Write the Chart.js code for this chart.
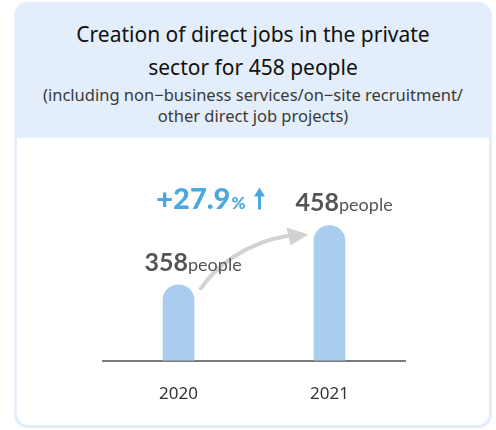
<!DOCTYPE html>
<html>
<head>
<meta charset="utf-8">
<script src="https://cdn.jsdelivr.net/npm/chart.js@4/dist/chart.umd.min.js"></script>
<style>
  html, body { margin: 0; padding: 0; background: #fff; }
  #card {
    position: absolute; left: 14px; top: 2px; width: 478px; height: 426px;
    background: #e3eefa; border-radius: 14px; box-sizing: border-box;
    padding: 0 3px 3px 3px;
  }
  #head { height: 136px; text-align: center; font-family: "Noto Sans", sans-serif; }
  #title { padding-top: 16px; font-size: 21px; line-height: 33px; color: #111; font-weight: 400; }
  #sub { margin-top: 0; font-size: 16.5px; line-height: 21px; color: #3a3a3a; }
  #body { position: relative; height: 287px; background: #fff; border-radius: 0 0 11px 11px; }
  #chart { position: absolute; left: 0; top: 0; }
</style>
</head>
<body>
<div id="card">
  <div id="head">
    <div id="title">Creation of direct jobs in the private<br>sector for 458 people</div>
    <div id="sub">(including non−business services/on−site recruitment/<br>other direct job projects)</div>
  </div>
  <div id="body"><canvas id="chart" width="472" height="289"></canvas></div>
</div>
<script>
// データ
const years = ['2020', '2021'];
const people = [358, 458];
const unitLabel = 'people';
const growthLabel = '+27.9';

// 数値ラベルと矢印を描く
const labelPlugin = {
    id: 'labelPlugin',
    afterDatasetsDraw(chart) {
        const ctx = chart.ctx;
        const bars = chart.getDatasetMeta(0).data;
        const b1 = bars[0], b2 = bars[1];
        ctx.save();
        // グレーの曲線矢印（文字の下に）
        ctx.strokeStyle = '#d2d2d2';
        ctx.fillStyle = '#d2d2d2';
        ctx.lineWidth = 4;
        ctx.beginPath();
        ctx.moveTo(b1.x + 21.5, b1.y + 5);
        ctx.bezierCurveTo(b1.x + 36, b1.y - 17, b2.x - 85, b2.y + 17, b2.x - 40, b2.y + 10);
        ctx.stroke();
        ctx.beginPath();
        ctx.moveTo(b2.x - 21, b2.y + 9);
        ctx.lineTo(b2.x - 43, b2.y + 2);
        ctx.lineTo(b2.x - 39, b2.y + 20);
        ctx.closePath();
        ctx.fill();
        // 各棒の上に人数
        bars.forEach((bar, i) => {
            const num = String(people[i]);
            ctx.font = 'bold 25px Lato';
            const w1 = ctx.measureText(num).width;
            const left = bar.x - 34;
            const base = bar.y - 14;
            ctx.textBaseline = 'alphabetic';
            ctx.textAlign = 'left';
            ctx.fillStyle = '#555555';
            ctx.fillText(num, left, base);
            ctx.font = '18px Lato';
            ctx.fillText(unitLabel, left + w1, base);
        });
        // 増加率
        const right = b2.x - 84;
        const base2 = b2.y - 16;
        ctx.fillStyle = '#4aa8e0';
        ctx.font = '900 17px Lato';
        const wp = ctx.measureText('%').width;
        ctx.font = '900 29px Lato';
        const wn = ctx.measureText(growthLabel).width;
        const startX = right - wp - wn - 1;
        ctx.fillText(growthLabel, startX, base2);
        ctx.font = '900 17px Lato';
        ctx.fillText('%', startX + wn + 1, base2);
        // 上向き矢印
        const ax = b2.x - 70;
        ctx.strokeStyle = '#4aa8e0';
        ctx.lineWidth = 3;
        ctx.beginPath();
        ctx.moveTo(ax, base2);
        ctx.lineTo(ax, base2 - 16);
        ctx.stroke();
        ctx.beginPath();
        ctx.moveTo(ax - 5.5, base2 - 13);
        ctx.lineTo(ax, base2 - 22);
        ctx.lineTo(ax + 5.5, base2 - 13);
        ctx.closePath();
        ctx.fill();
        ctx.restore();
    }
};

new Chart(document.getElementById('chart'), {
    type: 'bar',
    data: {
        labels: years,
        datasets: [{
            data: people,
            backgroundColor: '#a8cdee',
            barThickness: 31,
            borderRadius: 16,
        }]
    },
    options: {
        responsive: false,
        animation: false,
        layout: { padding: { left: 86, right: 84, top: 30, bottom: 0 } },
        plugins: {
            legend: { display: false },
            tooltip: { enabled: false }
        },
        scales: {
            x: {
                grid: { display: false, drawTicks: false },
                border: { display: true, color: '#7a7a7a', width: 2 },
                ticks: {
                    padding: 23,
                    color: '#333333',
                    font: { family: 'Noto Sans', size: 17 }
                }
            },
            y: {
                display: false,
                min: 230,
                max: 555
            }
        }
    },
    plugins: [labelPlugin]
});
</script>
</body>
</html>
